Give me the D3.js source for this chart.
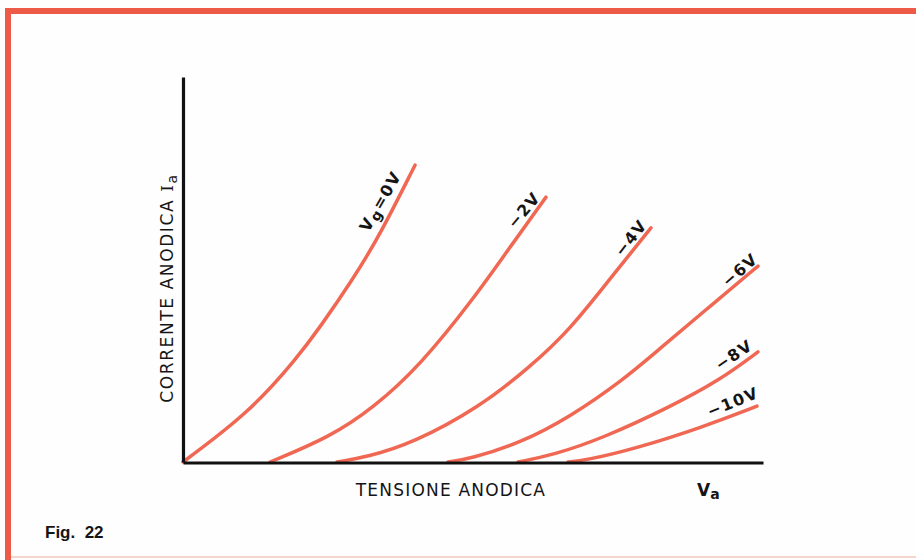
<!DOCTYPE html>
<html>
<head>
<meta charset="utf-8">
<script src="https://cdn.jsdelivr.net/npm/d3@7"></script>
<style>
  html, body { margin: 0; padding: 0; background: #fff; }
  svg { display: block; }
</style>
</head>
<body>
<svg id="chart" width="916" height="560"></svg>
<script>
// Grid voltages (curve labels)
const gridVoltages = ["0V", "-2V", "-4V", "-6V", "-8V", "-10V"];
// Anode voltage / anode current (arbitrary units)
const va0  = [0, 33.5, 57, 68.5, 85, 98.5, 116];
const ia0  = [0, 13.0, 27.0, 35.0, 47.5, 59.0, 77.1];
const va2  = [43.5, 73.5, 95, 118.5, 146, 163.5, 181.5];
const ia2  = [0, 6.5, 14.0, 25.0, 42.9, 55.8, 68.8];
const va4  = [77, 92, 115, 148.5, 173.5, 193.5, 217, 234];
const ia4  = [0, 1.3, 4.9, 14.3, 24.7, 34.3, 49.9, 60.8];
const va6  = [132.5, 143.5, 168.5, 193.5, 220, 237, 260, 287.5];
const ia6  = [0, 0.8, 4.9, 11.7, 21.3, 28.8, 38.9, 50.9];
const va8  = [167.5, 185, 210, 243.5, 268.5, 287.5];
const ia8  = [0, 1.8, 6.2, 14.3, 21.3, 28.6];
const va10 = [192.5, 202, 227, 260, 287];
const ia10 = [0, 0.5, 3.6, 9.1, 14.5];
// Axis titles
const yTitle = "CORRENTE ANODICA";
const xTitle = "TENSIONE ANODICA";
const caption = "Fig.  22";

const seriesVa = [va0, va2, va4, va6, va8, va10];
const seriesIa = [ia0, ia2, ia4, ia6, ia8, ia10];
const series = seriesVa.map((vs, i) => ({
  label: gridVoltages[i],
  pts: vs.map((v, j) => [v, seriesIa[i][j]])
}));

const svg = d3.select("#chart");
const red = "#ee5a48";
const curveCol = "#f06853";

// Frame
svg.append("rect").attr("x", 0).attr("y", 0).attr("width", 916).attr("height", 560).attr("fill", "#fefefe");
svg.append("line").attr("x1", 5).attr("x2", 916).attr("y1", 11).attr("y2", 11)
  .attr("stroke", red).attr("stroke-width", 6);
svg.append("line").attr("x1", 8).attr("x2", 8).attr("y1", 8).attr("y2", 560)
  .attr("stroke", red).attr("stroke-width", 6);
svg.append("line").attr("x1", 11).attr("x2", 916).attr("y1", 557).attr("y2", 557)
  .attr("stroke", "#f6d6cc").attr("stroke-width", 2);

const x = d3.scaleLinear().domain([0, 290]).range([183, 763]);
const y = d3.scaleLinear().domain([0, 100]).range([462, 77]);

// Curves
const line = d3.line().x(d => x(d[0])).y(d => y(d[1])).curve(d3.curveBasis);
svg.append("g").selectAll("path").data(series).join("path")
  .attr("d", d => line(d.pts))
  .attr("fill", "none")
  .attr("stroke", curveCol)
  .attr("stroke-width", 3.5)
  .attr("stroke-linecap", "round");

// Axes
const xAxis = d3.axisBottom(x).ticks(0).tickSize(0).tickSizeOuter(0);
const yAxis = d3.axisLeft(y).ticks(0).tickSize(0).tickSizeOuter(0);
const gx = svg.append("g").attr("transform", `translate(0,${y(0) + 0.5})`).call(xAxis);
const gy = svg.append("g").attr("transform", `translate(${x(0)},0)`).call(yAxis);
[gx, gy].forEach(g => {
  g.select(".domain").attr("stroke", "#111").attr("stroke-width", 3.2);
  g.selectAll("text").remove();
});

// Curve labels (positioned relative to the end of each curve)
const font = "'DejaVu Sans', sans-serif";
const labelOffsets = [
  {dx: -35, dy: 36, a: -60},
  {dx: -22, dy: 13, a: -50},
  {dx: -20, dy: 10, a: -52},
  {dx: -18, dy: 4, a: -41},
  {dx: -24, dy: 3, a: -34},
  {dx: -24, dy: -4, a: -22}
];
series.forEach((s, i) => {
  const last = s.pts[s.pts.length - 1];
  const o = labelOffsets[i];
  const cx = x(last[0]) + o.dx, cy = y(last[1]) + o.dy;
  const t = svg.append("text")
    .attr("transform", `translate(${cx},${cy}) rotate(${o.a})`)
    .attr("text-anchor", "middle")
    .attr("dominant-baseline", "central")
    .attr("font-family", font)
    .attr("font-size", 16)
    .attr("font-weight", "bold")
    .attr("letter-spacing", 1.5)
    .attr("fill", "#151515");
  if (i === 0) {
    t.append("tspan").text("V");
    t.append("tspan").attr("dy", 4).attr("font-size", 14).text("g");
    t.append("tspan").attr("dy", -4).text("=" + s.label);
  } else {
    t.text(s.label.replace("-", "\u2212"));
  }
});

// Y axis title
const yt = svg.append("text")
  .attr("transform", `translate(173,288) rotate(-90)`)
  .attr("text-anchor", "middle")
  .attr("font-family", font)
  .attr("font-size", 17)
  .attr("letter-spacing", 1.6)
  .attr("fill", "#151515");
yt.append("tspan").text(yTitle + "  ");
yt.append("tspan").attr("font-family", "'DejaVu Serif', serif").text("I");
yt.append("tspan").attr("dy", 4).attr("font-size", 14).text("a");

// X axis title
svg.append("text")
  .attr("x", 451).attr("y", 496)
  .attr("text-anchor", "middle")
  .attr("font-family", font)
  .attr("font-size", 17)
  .attr("letter-spacing", 1.2)
  .attr("fill", "#151515")
  .text(xTitle);

const va = svg.append("text")
  .attr("x", 697).attr("y", 496)
  .attr("font-family", font)
  .attr("font-size", 17)
  .attr("font-weight", "bold")
  .attr("fill", "#151515");
va.append("tspan").text("V");
va.append("tspan").attr("dy", 3).attr("font-size", 14).text("a");

// Caption
svg.append("text")
  .attr("x", 45).attr("y", 538)
  .attr("font-family", "'Liberation Sans', Arial, sans-serif")
  .attr("font-size", 17)
  .attr("font-weight", "bold")
  .attr("fill", "#151515")
  .style("white-space", "pre")
  .text(caption);
</script>
</body>
</html>
